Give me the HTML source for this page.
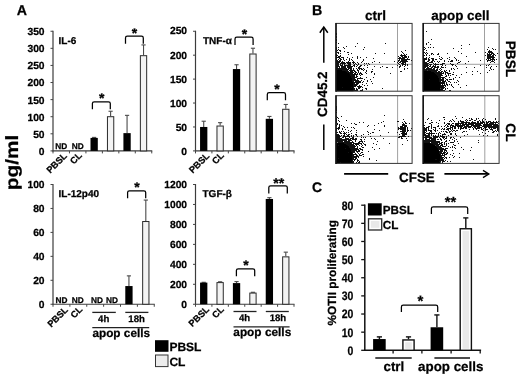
<!DOCTYPE html>
<html><head><meta charset="utf-8"><title>Figure</title>
<style>html,body{margin:0;padding:0;background:#fff}svg{display:block}text{stroke:#000;stroke-width:.25px}</style></head>
<body><svg width="520" height="377" viewBox="0 0 520 377">
<rect width="520" height="377" fill="#fff"/>
<g font-family='"Liberation Sans", Arial, Helvetica, sans-serif' font-weight="bold" fill="#000" text-rendering="geometricPrecision">
<text x="16.7" y="14.8" font-size="14.2" text-anchor="start">A</text>
<text x="311.9" y="14.7" font-size="14.2" text-anchor="start">B</text>
<text x="312.1" y="191.8" font-size="13.9" text-anchor="start">C</text>
<text x="17.6" y="190.2" font-size="17.8" text-anchor="start" transform="rotate(-90 17.6 190.2)" textLength="55.5" lengthAdjust="spacingAndGlyphs">pg/ml</text>
<line x1="53" y1="30.75" x2="53" y2="151.4" stroke="#3c3c3c" stroke-width="1.2"/>
<line x1="52.5" y1="150.9" x2="152.25" y2="150.9" stroke="#3c3c3c" stroke-width="1.2"/>
<line x1="50.5" y1="150.9" x2="53" y2="150.9" stroke="#444" stroke-width="1"/>
<text x="44.6" y="155.2" font-size="10.3" text-anchor="end">0</text>
<line x1="50.5" y1="133.80714285714288" x2="53" y2="133.80714285714288" stroke="#444" stroke-width="1"/>
<text x="44.6" y="137.99" font-size="10.3" text-anchor="end">50</text>
<line x1="50.5" y1="116.71428571428572" x2="53" y2="116.71428571428572" stroke="#444" stroke-width="1"/>
<text x="44.6" y="120.79" font-size="10.3" text-anchor="end">100</text>
<line x1="50.5" y1="99.62142857142857" x2="53" y2="99.62142857142857" stroke="#444" stroke-width="1"/>
<text x="44.6" y="103.58" font-size="10.3" text-anchor="end">150</text>
<line x1="50.5" y1="82.52857142857144" x2="53" y2="82.52857142857144" stroke="#444" stroke-width="1"/>
<text x="44.6" y="86.37" font-size="10.3" text-anchor="end">200</text>
<line x1="50.5" y1="65.4357142857143" x2="53" y2="65.4357142857143" stroke="#444" stroke-width="1"/>
<text x="44.6" y="69.16" font-size="10.3" text-anchor="end">250</text>
<line x1="50.5" y1="48.34285714285714" x2="53" y2="48.34285714285714" stroke="#444" stroke-width="1"/>
<text x="44.6" y="51.96" font-size="10.3" text-anchor="end">300</text>
<line x1="50.5" y1="31.25" x2="53" y2="31.25" stroke="#444" stroke-width="1"/>
<text x="44.6" y="34.75" font-size="10.3" text-anchor="end">350</text>
<line x1="53.0" y1="150.9" x2="53.0" y2="153.4" stroke="#444" stroke-width="1"/>
<line x1="69.45833333333333" y1="150.9" x2="69.45833333333333" y2="153.4" stroke="#444" stroke-width="1"/>
<line x1="85.91666666666666" y1="150.9" x2="85.91666666666666" y2="153.4" stroke="#444" stroke-width="1"/>
<line x1="102.375" y1="150.9" x2="102.375" y2="153.4" stroke="#444" stroke-width="1"/>
<line x1="118.83333333333333" y1="150.9" x2="118.83333333333333" y2="153.4" stroke="#444" stroke-width="1"/>
<line x1="135.29166666666666" y1="150.9" x2="135.29166666666666" y2="153.4" stroke="#444" stroke-width="1"/>
<line x1="151.75" y1="150.9" x2="151.75" y2="153.4" stroke="#444" stroke-width="1"/>
<text x="58.5" y="43.699999999999996" font-size="10" text-anchor="start">IL-6</text>
<line x1="94.14583333333333" y1="137.90942857142858" x2="94.14583333333333" y2="137.39664285714287" stroke="#4a4a4a" stroke-width="1.1"/>
<line x1="92.04583333333333" y1="137.39664285714287" x2="96.24583333333332" y2="137.39664285714287" stroke="#4a4a4a" stroke-width="1.1"/>
<rect x="90.50" y="137.91" width="7.3" height="12.99" fill="#000"/>
<line x1="110.60416666666666" y1="116.20150000000001" x2="110.60416666666666" y2="111.24457142857143" stroke="#4a4a4a" stroke-width="1.1"/>
<line x1="108.50416666666666" y1="111.24457142857143" x2="112.70416666666665" y2="111.24457142857143" stroke="#4a4a4a" stroke-width="1.1"/>
<rect x="107.45" y="116.70" width="6.3" height="34.20" fill="#f3f3f3" stroke="#2a2a2a" stroke-width="1"/>
<line x1="127.0625" y1="133.12342857142858" x2="127.0625" y2="115.34685714285715" stroke="#4a4a4a" stroke-width="1.1"/>
<line x1="124.9625" y1="115.34685714285715" x2="129.1625" y2="115.34685714285715" stroke="#4a4a4a" stroke-width="1.1"/>
<rect x="123.41" y="133.12" width="7.3" height="17.78" fill="#000"/>
<line x1="143.52083333333331" y1="55.18000000000001" x2="143.52083333333331" y2="44.924285714285716" stroke="#4a4a4a" stroke-width="1.1"/>
<line x1="141.42083333333332" y1="44.924285714285716" x2="145.6208333333333" y2="44.924285714285716" stroke="#4a4a4a" stroke-width="1.1"/>
<rect x="140.37" y="55.68" width="6.3" height="95.22" fill="#f3f3f3" stroke="#2a2a2a" stroke-width="1"/>
<text x="61.23" y="149.20000000000002" font-size="8.3" text-anchor="middle">ND</text>
<text x="77.69" y="149.20000000000002" font-size="8.3" text-anchor="middle">ND</text>
<path d="M92.4 109.2V103.6Q92.4 101.8 94.2 101.8H108.5Q110.3 101.8 110.3 103.6V109.2" fill="none" stroke="#000" stroke-width="1.25"/>
<text x="101.8" y="102.95" font-size="14" text-anchor="middle">*</text>
<path d="M125.5 43.8V37.9Q125.5 36.1 127.3 36.1H141.5Q143.3 36.1 143.3 37.9V43.8" fill="none" stroke="#000" stroke-width="1.25"/>
<text x="134.6" y="37.55" font-size="14" text-anchor="middle">*</text>
<text x="67.5" y="156.5" font-size="9.2" text-anchor="end" transform="rotate(-45 67.5 156.5)">PBSL</text>
<text x="82.5" y="156" font-size="9.2" text-anchor="end" transform="rotate(-45 82.5 156)">CL</text>
<line x1="195.5" y1="30.75" x2="195.5" y2="151.4" stroke="#3c3c3c" stroke-width="1.2"/>
<line x1="195.0" y1="150.9" x2="294.5" y2="150.9" stroke="#3c3c3c" stroke-width="1.2"/>
<line x1="193.0" y1="150.9" x2="195.5" y2="150.9" stroke="#444" stroke-width="1"/>
<text x="187.1" y="155.2" font-size="10.3" text-anchor="end">0</text>
<line x1="193.0" y1="126.97" x2="195.5" y2="126.97" stroke="#444" stroke-width="1"/>
<text x="187.1" y="131.03" font-size="10.3" text-anchor="end">50</text>
<line x1="193.0" y1="103.04" x2="195.5" y2="103.04" stroke="#444" stroke-width="1"/>
<text x="187.1" y="106.86" font-size="10.3" text-anchor="end">100</text>
<line x1="193.0" y1="79.11" x2="195.5" y2="79.11" stroke="#444" stroke-width="1"/>
<text x="187.1" y="82.69" font-size="10.3" text-anchor="end">150</text>
<line x1="193.0" y1="55.18000000000001" x2="195.5" y2="55.18000000000001" stroke="#444" stroke-width="1"/>
<text x="187.1" y="58.52" font-size="10.3" text-anchor="end">200</text>
<line x1="193.0" y1="31.25" x2="195.5" y2="31.25" stroke="#444" stroke-width="1"/>
<text x="187.1" y="34.35" font-size="10.3" text-anchor="end">250</text>
<line x1="195.5" y1="150.9" x2="195.5" y2="153.4" stroke="#444" stroke-width="1"/>
<line x1="211.91666666666666" y1="150.9" x2="211.91666666666666" y2="153.4" stroke="#444" stroke-width="1"/>
<line x1="228.33333333333334" y1="150.9" x2="228.33333333333334" y2="153.4" stroke="#444" stroke-width="1"/>
<line x1="244.75" y1="150.9" x2="244.75" y2="153.4" stroke="#444" stroke-width="1"/>
<line x1="261.1666666666667" y1="150.9" x2="261.1666666666667" y2="153.4" stroke="#444" stroke-width="1"/>
<line x1="277.58333333333337" y1="150.9" x2="277.58333333333337" y2="153.4" stroke="#444" stroke-width="1"/>
<line x1="294.0" y1="150.9" x2="294.0" y2="153.4" stroke="#444" stroke-width="1"/>
<text x="203" y="43.699999999999996" font-size="10" text-anchor="start">TNF-α</text>
<line x1="203.70833333333334" y1="126.97" x2="203.70833333333334" y2="121.2268" stroke="#4a4a4a" stroke-width="1.1"/>
<line x1="201.60833333333335" y1="121.2268" x2="205.80833333333334" y2="121.2268" stroke="#4a4a4a" stroke-width="1.1"/>
<rect x="200.06" y="126.97" width="7.3" height="23.93" fill="#000"/>
<line x1="220.125" y1="125.5342" x2="220.125" y2="122.6626" stroke="#4a4a4a" stroke-width="1.1"/>
<line x1="218.025" y1="122.6626" x2="222.225" y2="122.6626" stroke="#4a4a4a" stroke-width="1.1"/>
<rect x="216.97" y="126.03" width="6.3" height="24.87" fill="#f3f3f3" stroke="#2a2a2a" stroke-width="1"/>
<line x1="236.54166666666669" y1="69.0594" x2="236.54166666666669" y2="64.75200000000001" stroke="#4a4a4a" stroke-width="1.1"/>
<line x1="234.4416666666667" y1="64.75200000000001" x2="238.64166666666668" y2="64.75200000000001" stroke="#4a4a4a" stroke-width="1.1"/>
<rect x="232.89" y="69.06" width="7.3" height="81.84" fill="#000"/>
<line x1="252.95833333333334" y1="53.504900000000006" x2="252.95833333333334" y2="48.24029999999999" stroke="#4a4a4a" stroke-width="1.1"/>
<line x1="250.85833333333335" y1="48.24029999999999" x2="255.05833333333334" y2="48.24029999999999" stroke="#4a4a4a" stroke-width="1.1"/>
<rect x="249.81" y="54.00" width="6.3" height="96.90" fill="#f3f3f3" stroke="#2a2a2a" stroke-width="1"/>
<line x1="269.375" y1="118.8338" x2="269.375" y2="116.4408" stroke="#4a4a4a" stroke-width="1.1"/>
<line x1="267.275" y1="116.4408" x2="271.475" y2="116.4408" stroke="#4a4a4a" stroke-width="1.1"/>
<rect x="265.73" y="118.83" width="7.3" height="32.07" fill="#000"/>
<line x1="285.7916666666667" y1="108.7832" x2="285.7916666666667" y2="104.47579999999999" stroke="#4a4a4a" stroke-width="1.1"/>
<line x1="283.69166666666666" y1="104.47579999999999" x2="287.8916666666667" y2="104.47579999999999" stroke="#4a4a4a" stroke-width="1.1"/>
<rect x="282.64" y="109.28" width="6.3" height="41.62" fill="#f3f3f3" stroke="#2a2a2a" stroke-width="1"/>
<path d="M235 45V39.0Q235 37.2 236.8 37.2H251.29999999999998Q253.1 37.2 253.1 39.0V45" fill="none" stroke="#000" stroke-width="1.25"/>
<text x="244.4" y="39.0" font-size="14" text-anchor="middle">*</text>
<path d="M267.3 100.2V94.39999999999999Q267.3 92.6 269.1 92.6H283.7Q285.5 92.6 285.5 94.39999999999999V100.2" fill="none" stroke="#000" stroke-width="1.25"/>
<text x="276.9" y="94.05" font-size="14" text-anchor="middle">*</text>
<text x="210" y="156.5" font-size="9.2" text-anchor="end" transform="rotate(-45 210 156.5)">PBSL</text>
<text x="224.5" y="156" font-size="9.2" text-anchor="end" transform="rotate(-45 224.5 156)">CL</text>
<line x1="53" y1="184.0" x2="53" y2="304.75" stroke="#3c3c3c" stroke-width="1.2"/>
<line x1="52.5" y1="304.25" x2="154.75" y2="304.25" stroke="#3c3c3c" stroke-width="1.2"/>
<line x1="50.5" y1="304.25" x2="53" y2="304.25" stroke="#444" stroke-width="1"/>
<text x="44.6" y="308.2" font-size="10.3" text-anchor="end">0</text>
<line x1="50.5" y1="280.3" x2="53" y2="280.3" stroke="#444" stroke-width="1"/>
<text x="44.6" y="284.18" font-size="10.3" text-anchor="end">20</text>
<line x1="50.5" y1="256.35" x2="53" y2="256.35" stroke="#444" stroke-width="1"/>
<text x="44.6" y="260.16" font-size="10.3" text-anchor="end">40</text>
<line x1="50.5" y1="232.4" x2="53" y2="232.4" stroke="#444" stroke-width="1"/>
<text x="44.6" y="236.14" font-size="10.3" text-anchor="end">60</text>
<line x1="50.5" y1="208.45" x2="53" y2="208.45" stroke="#444" stroke-width="1"/>
<text x="44.6" y="212.12" font-size="10.3" text-anchor="end">80</text>
<line x1="50.5" y1="184.5" x2="53" y2="184.5" stroke="#444" stroke-width="1"/>
<text x="44.6" y="188.1" font-size="10.3" text-anchor="end">100</text>
<line x1="53.0" y1="304.25" x2="53.0" y2="306.75" stroke="#444" stroke-width="1"/>
<line x1="69.875" y1="304.25" x2="69.875" y2="306.75" stroke="#444" stroke-width="1"/>
<line x1="86.75" y1="304.25" x2="86.75" y2="306.75" stroke="#444" stroke-width="1"/>
<line x1="103.625" y1="304.25" x2="103.625" y2="306.75" stroke="#444" stroke-width="1"/>
<line x1="120.5" y1="304.25" x2="120.5" y2="306.75" stroke="#444" stroke-width="1"/>
<line x1="137.375" y1="304.25" x2="137.375" y2="306.75" stroke="#444" stroke-width="1"/>
<line x1="154.25" y1="304.25" x2="154.25" y2="306.75" stroke="#444" stroke-width="1"/>
<text x="58.5" y="197.4" font-size="10" text-anchor="start">IL-12p40</text>
<line x1="128.9375" y1="286.048" x2="128.9375" y2="275.86925" stroke="#4a4a4a" stroke-width="1.1"/>
<line x1="126.8375" y1="275.86925" x2="131.0375" y2="275.86925" stroke="#4a4a4a" stroke-width="1.1"/>
<rect x="125.29" y="286.05" width="7.3" height="18.20" fill="#000"/>
<line x1="145.8125" y1="221.02375" x2="145.8125" y2="200.0675" stroke="#4a4a4a" stroke-width="1.1"/>
<line x1="143.7125" y1="200.0675" x2="147.9125" y2="200.0675" stroke="#4a4a4a" stroke-width="1.1"/>
<rect x="142.66" y="221.52" width="6.3" height="82.73" fill="#f3f3f3" stroke="#2a2a2a" stroke-width="1"/>
<text x="61.6" y="302.55" font-size="8.3" text-anchor="middle">ND</text>
<text x="77.8" y="302.55" font-size="8.3" text-anchor="middle">ND</text>
<text x="96.9" y="302.55" font-size="8.3" text-anchor="middle">ND</text>
<text x="111.9" y="302.55" font-size="8.3" text-anchor="middle">ND</text>
<path d="M127.6 198.2V192.60000000000002Q127.6 190.8 129.4 190.8H143.89999999999998Q145.7 190.8 145.7 192.60000000000002V198.2" fill="none" stroke="#000" stroke-width="1.25"/>
<text x="137.0" y="192.2" font-size="14" text-anchor="middle">*</text>
<text x="68.5" y="310.5" font-size="9.2" text-anchor="end" transform="rotate(-45 68.5 310.5)">PBSL</text>
<text x="83" y="310" font-size="9.2" text-anchor="end" transform="rotate(-45 83 310)">CL</text>
<line x1="92.3" y1="312.4" x2="115.8" y2="312.4" stroke="#222" stroke-width="1.3"/>
<line x1="125.3" y1="312.4" x2="148.4" y2="312.4" stroke="#222" stroke-width="1.3"/>
<line x1="92.3" y1="327.7" x2="149.20000000000002" y2="327.7" stroke="#222" stroke-width="1.3"/>
<text x="103.7" y="322" font-size="9.6" text-anchor="middle">4h</text>
<text x="136.6" y="322" font-size="9.6" text-anchor="middle">18h</text>
<text x="92.4" y="336.8" font-size="11.8" text-anchor="start">apop cells</text>
<line x1="195.5" y1="184.0" x2="195.5" y2="304.75" stroke="#3c3c3c" stroke-width="1.2"/>
<line x1="195.0" y1="304.25" x2="294.5" y2="304.25" stroke="#3c3c3c" stroke-width="1.2"/>
<line x1="193.0" y1="304.25" x2="195.5" y2="304.25" stroke="#444" stroke-width="1"/>
<text x="187.1" y="308.2" font-size="10.3" text-anchor="end">0</text>
<line x1="193.0" y1="284.2916666666667" x2="195.5" y2="284.2916666666667" stroke="#444" stroke-width="1"/>
<text x="187.1" y="288.18" font-size="10.3" text-anchor="end">200</text>
<line x1="193.0" y1="264.3333333333333" x2="195.5" y2="264.3333333333333" stroke="#444" stroke-width="1"/>
<text x="187.1" y="268.17" font-size="10.3" text-anchor="end">400</text>
<line x1="193.0" y1="244.375" x2="195.5" y2="244.375" stroke="#444" stroke-width="1"/>
<text x="187.1" y="248.15" font-size="10.3" text-anchor="end">600</text>
<line x1="193.0" y1="224.41666666666669" x2="195.5" y2="224.41666666666669" stroke="#444" stroke-width="1"/>
<text x="187.1" y="228.13" font-size="10.3" text-anchor="end">800</text>
<line x1="193.0" y1="204.45833333333331" x2="195.5" y2="204.45833333333331" stroke="#444" stroke-width="1"/>
<text x="187.1" y="208.12" font-size="10.3" text-anchor="end">1000</text>
<line x1="193.0" y1="184.5" x2="195.5" y2="184.5" stroke="#444" stroke-width="1"/>
<text x="187.1" y="188.1" font-size="10.3" text-anchor="end">1200</text>
<line x1="195.5" y1="304.25" x2="195.5" y2="306.75" stroke="#444" stroke-width="1"/>
<line x1="211.91666666666666" y1="304.25" x2="211.91666666666666" y2="306.75" stroke="#444" stroke-width="1"/>
<line x1="228.33333333333334" y1="304.25" x2="228.33333333333334" y2="306.75" stroke="#444" stroke-width="1"/>
<line x1="244.75" y1="304.25" x2="244.75" y2="306.75" stroke="#444" stroke-width="1"/>
<line x1="261.1666666666667" y1="304.25" x2="261.1666666666667" y2="306.75" stroke="#444" stroke-width="1"/>
<line x1="277.58333333333337" y1="304.25" x2="277.58333333333337" y2="306.75" stroke="#444" stroke-width="1"/>
<line x1="294.0" y1="304.25" x2="294.0" y2="306.75" stroke="#444" stroke-width="1"/>
<text x="202.5" y="197.4" font-size="10" text-anchor="start">TGF-β</text>
<line x1="203.70833333333334" y1="282.59520833333335" x2="203.70833333333334" y2="282.29583333333335" stroke="#4a4a4a" stroke-width="1.1"/>
<line x1="201.60833333333335" y1="282.29583333333335" x2="205.80833333333334" y2="282.29583333333335" stroke="#4a4a4a" stroke-width="1.1"/>
<rect x="200.06" y="282.60" width="7.3" height="21.65" fill="#000"/>
<line x1="220.125" y1="282.09625" x2="220.125" y2="281.796875" stroke="#4a4a4a" stroke-width="1.1"/>
<line x1="218.025" y1="281.796875" x2="222.225" y2="281.796875" stroke="#4a4a4a" stroke-width="1.1"/>
<rect x="216.97" y="282.60" width="6.3" height="21.65" fill="#f3f3f3" stroke="#2a2a2a" stroke-width="1"/>
<line x1="236.54166666666669" y1="283.09416666666664" x2="236.54166666666669" y2="281.59729166666665" stroke="#4a4a4a" stroke-width="1.1"/>
<line x1="234.4416666666667" y1="281.59729166666665" x2="238.64166666666668" y2="281.59729166666665" stroke="#4a4a4a" stroke-width="1.1"/>
<rect x="232.89" y="283.09" width="7.3" height="21.16" fill="#000"/>
<line x1="252.95833333333334" y1="292.574375" x2="252.95833333333334" y2="292.275" stroke="#4a4a4a" stroke-width="1.1"/>
<line x1="250.85833333333335" y1="292.275" x2="255.05833333333334" y2="292.275" stroke="#4a4a4a" stroke-width="1.1"/>
<rect x="249.81" y="293.07" width="6.3" height="11.18" fill="#f3f3f3" stroke="#2a2a2a" stroke-width="1"/>
<line x1="269.375" y1="198.96979166666665" x2="269.375" y2="197.6725" stroke="#4a4a4a" stroke-width="1.1"/>
<line x1="267.275" y1="197.6725" x2="271.475" y2="197.6725" stroke="#4a4a4a" stroke-width="1.1"/>
<rect x="265.73" y="198.97" width="7.3" height="105.28" fill="#000"/>
<line x1="285.7916666666667" y1="256.35" x2="285.7916666666667" y2="252.15875" stroke="#4a4a4a" stroke-width="1.1"/>
<line x1="283.69166666666666" y1="252.15875" x2="287.8916666666667" y2="252.15875" stroke="#4a4a4a" stroke-width="1.1"/>
<rect x="282.64" y="256.85" width="6.3" height="47.40" fill="#f3f3f3" stroke="#2a2a2a" stroke-width="1"/>
<path d="M236.4 276.2V270.6Q236.4 268.8 238.20000000000002 268.8H252.89999999999998Q254.7 268.8 254.7 270.6V276.2" fill="none" stroke="#000" stroke-width="1.25"/>
<text x="246.0" y="270.05" font-size="14" text-anchor="middle">*</text>
<path d="M268.8 193.4V187.60000000000002Q268.8 185.8 270.6 185.8H285.5Q287.3 185.8 287.3 187.60000000000002V193.4" fill="none" stroke="#000" stroke-width="1.25"/>
<text x="278.7" y="187.7" font-size="14.2" text-anchor="middle">**</text>
<text x="209.7" y="310" font-size="9.2" text-anchor="end" transform="rotate(-45 209.7 310)">PBSL</text>
<text x="224.5" y="310" font-size="9.2" text-anchor="end" transform="rotate(-45 224.5 310)">CL</text>
<line x1="233.5" y1="311.5" x2="256.5" y2="311.5" stroke="#222" stroke-width="1.3"/>
<line x1="265.8" y1="311.5" x2="288.8" y2="311.5" stroke="#222" stroke-width="1.3"/>
<line x1="233.5" y1="326.9" x2="289.6" y2="326.9" stroke="#222" stroke-width="1.3"/>
<text x="244.5" y="321.1" font-size="9.6" text-anchor="middle">4h</text>
<text x="277.9" y="321.1" font-size="9.6" text-anchor="middle">18h</text>
<text x="233.3" y="335.8" font-size="11.85" text-anchor="start">apop cells</text>
<rect x="155" y="340.2" width="13.5" height="11.6" fill="#000"/>
<rect x="155.5" y="355" width="12.5" height="11.6" fill="#ececec" stroke="#333" stroke-width="1"/>
<text x="169.4" y="351" font-size="12" text-anchor="start">PBSL</text>
<text x="169.4" y="365.8" font-size="12" text-anchor="start">CL</text>
<text x="375.4" y="20.3" font-size="13.5" text-anchor="middle">ctrl</text>
<text x="460.4" y="19.8" font-size="13.45" text-anchor="middle">apop cell</text>
<text x="505.6" y="40.7" font-size="13.7" text-anchor="start" transform="rotate(90 505.6 40.7)">PBSL</text>
<text x="506.3" y="123.3" font-size="13.7" text-anchor="start" transform="rotate(90 506.3 123.3)">CL</text>
<text x="327.4" y="116.9" font-size="13.4" text-anchor="start" transform="rotate(-90 327.4 116.9)">CD45.2</text>
<line x1="323.8" y1="62.7" x2="323.8" y2="27.5" stroke="#000" stroke-width="1.5"/>
<path d="M319.8 32.8L323.8 27L327.8 32.8" fill="none" stroke="#000" stroke-width="1.5"/>
<line x1="323.8" y1="124.5" x2="323.8" y2="150" stroke="#000" stroke-width="1.5"/>
<text x="416.9" y="182.3" font-size="13.4" text-anchor="middle">CFSE</text>
<line x1="344.1" y1="173.9" x2="388.2" y2="173.9" stroke="#000" stroke-width="1.6"/>
<line x1="444.4" y1="173.9" x2="488.5" y2="173.9" stroke="#000" stroke-width="1.6"/>
<path d="M483 170.3L488.8 174L483 177.7" fill="none" stroke="#000" stroke-width="1.4"/>
<line x1="397.5" y1="23.4" x2="397.5" y2="91.2" stroke="#888" stroke-width="0.8"/>
<line x1="336" y1="64.3" x2="412.1" y2="64.3" stroke="#888" stroke-width="0.8"/>
<path d="M336 91.2V69.7L338.8 69.7L340.5 69.8L341.9 70.0L343.1 70.2L344.2 70.5L345.2 70.8L346.2 71.2L347.0 71.7L347.8 72.2L348.6 72.8L349.3 73.4L349.9 74.1L350.5 74.9L351.0 75.8L351.5 76.7L351.9 77.7L352.3 78.7L352.6 79.9L352.9 81.1L353.1 82.5L353.3 84.0L353.4 85.7L353.5 87.7L353.5 91.2Z" fill="#000"/>
<path d="M336 33.5h1M336 34.5h1M336 36.5h1M336 37.5h1M336 39.5h1M336 40.5h1M336 42.5h1M336 47.5h1M336 48.5h1M336 49.5h1M336 51.5h1M336 54.5h1M336 55.5h1M336 56.5h1M336 57.5h1M336 58.5h1M336 59.5h1M336 60.5h1M336 61.5h1M336 62.5h1M336 63.5h1M336 64.5h1M336 65.5h1M336 66.5h1M336 67.5h1M336 68.5h1M336 69.5h1M337 50.5h1M337 52.5h1M337 55.5h1M337 57.5h1M337 60.5h1M337 61.5h1M337 62.5h1M337 63.5h1M337 64.5h1M337 65.5h1M337 66.5h1M337 67.5h1M337 68.5h1M337 69.5h1M338 43.5h1M338 47.5h1M338 49.5h1M338 52.5h1M338 53.5h1M338 56.5h1M338 57.5h1M338 59.5h1M338 61.5h1M338 62.5h1M338 63.5h1M338 64.5h1M338 65.5h1M338 66.5h1M338 68.5h1M338 69.5h1M339 50.5h1M339 56.5h1M339 57.5h1M339 58.5h1M339 60.5h1M339 61.5h1M339 62.5h1M339 66.5h1M339 67.5h1M339 68.5h1M339 69.5h1M340 50.5h1M340 51.5h1M340 53.5h1M340 55.5h1M340 56.5h1M340 58.5h1M340 59.5h1M340 60.5h1M340 61.5h1M340 63.5h1M340 64.5h1M340 65.5h1M340 68.5h1M340 69.5h1M341 57.5h1M341 59.5h1M341 62.5h1M341 63.5h1M341 65.5h1M341 66.5h1M341 67.5h1M341 68.5h1M341 69.5h1M342 57.5h1M342 61.5h1M342 62.5h1M342 63.5h1M342 64.5h1M342 65.5h1M342 66.5h1M342 67.5h1M342 68.5h1M342 69.5h1M342 70.5h1M342 87.5h1M343 47.5h1M343 57.5h1M343 58.5h1M343 59.5h1M343 62.5h1M343 63.5h1M343 66.5h1M343 67.5h1M343 68.5h1M343 69.5h1M343 70.5h1M344 48.5h1M344 51.5h1M344 60.5h1M344 62.5h1M344 63.5h1M344 64.5h1M344 65.5h1M344 66.5h1M344 67.5h1M344 68.5h1M344 69.5h1M344 70.5h1M345 63.5h1M345 65.5h1M345 66.5h1M345 67.5h1M345 68.5h1M345 69.5h1M345 70.5h1M346 46.5h1M346 59.5h1M346 62.5h1M346 65.5h1M346 68.5h1M346 69.5h1M346 70.5h1M346 71.5h1M347 52.5h1M347 57.5h1M347 62.5h1M347 63.5h1M347 65.5h1M347 66.5h1M347 67.5h1M347 69.5h1M347 70.5h1M347 71.5h1M347 72.5h1M348 52.5h1M348 54.5h1M348 61.5h1M348 62.5h1M348 63.5h1M348 64.5h1M348 65.5h1M348 66.5h1M348 67.5h1M348 68.5h1M348 69.5h1M348 71.5h1M348 72.5h1M349 58.5h1M349 59.5h1M349 60.5h1M349 62.5h1M349 63.5h1M349 64.5h1M349 65.5h1M349 66.5h1M349 67.5h1M349 68.5h1M349 70.5h1M349 72.5h1M349 73.5h1M350 62.5h1M350 63.5h1M350 64.5h1M350 65.5h1M350 66.5h1M350 67.5h1M350 68.5h1M350 69.5h1M350 70.5h1M350 71.5h1M350 72.5h1M350 73.5h1M350 74.5h1M350 75.5h1M351 53.5h1M351 59.5h1M351 66.5h1M351 67.5h1M351 68.5h1M351 69.5h1M351 70.5h1M351 71.5h1M351 72.5h1M351 73.5h1M351 74.5h1M351 75.5h1M351 76.5h1M351 77.5h1M351 87.5h1M352 57.5h1M352 60.5h1M352 62.5h1M352 66.5h1M352 70.5h1M352 71.5h1M352 72.5h1M352 73.5h1M352 74.5h1M352 75.5h1M352 76.5h1M352 77.5h1M352 78.5h1M352 79.5h1M352 80.5h1M352 81.5h1M353 61.5h1M353 62.5h1M353 63.5h1M353 65.5h1M353 68.5h1M353 69.5h1M353 70.5h1M353 72.5h1M353 74.5h1M353 75.5h1M353 76.5h1M353 77.5h1M353 78.5h1M353 79.5h1M353 80.5h1M353 81.5h1M353 82.5h1M353 83.5h1M353 84.5h1M353 85.5h1M353 86.5h1M353 87.5h1M353 88.5h1M353 89.5h1M353 90.5h1M354 62.5h1M354 64.5h1M354 65.5h1M354 66.5h1M354 70.5h1M354 71.5h1M354 73.5h1M354 74.5h1M354 75.5h1M354 76.5h1M354 77.5h1M354 78.5h1M354 79.5h1M354 80.5h1M354 82.5h1M354 83.5h1M354 84.5h1M354 85.5h1M354 86.5h1M354 88.5h1M354 89.5h1M354 90.5h1M355 46.5h1M355 63.5h1M355 71.5h1M355 72.5h1M355 73.5h1M355 74.5h1M355 77.5h1M355 79.5h1M355 80.5h1M355 81.5h1M355 82.5h1M355 84.5h1M355 85.5h1M355 86.5h1M355 90.5h1M356 64.5h1M356 66.5h1M356 68.5h1M356 72.5h1M356 74.5h1M356 75.5h1M356 76.5h1M356 77.5h1M356 80.5h1M356 81.5h1M356 82.5h1M356 83.5h1M356 84.5h1M356 85.5h1M356 88.5h1M356 89.5h1M356 90.5h1M357 43.5h1M357 56.5h1M357 57.5h1M357 58.5h1M357 62.5h1M357 65.5h1M357 69.5h1M357 70.5h1M357 73.5h1M357 74.5h1M357 76.5h1M357 78.5h1M357 79.5h1M357 80.5h1M357 81.5h1M357 82.5h1M357 83.5h1M357 84.5h1M357 86.5h1M357 89.5h1M357 90.5h1M358 63.5h1M358 64.5h1M358 67.5h1M358 68.5h1M358 70.5h1M358 71.5h1M358 72.5h1M358 78.5h1M358 80.5h1M358 81.5h1M358 82.5h1M358 83.5h1M358 86.5h1M358 87.5h1M358 88.5h1M359 66.5h1M359 67.5h1M359 68.5h1M359 69.5h1M359 73.5h1M359 74.5h1M359 78.5h1M359 81.5h1M359 82.5h1M359 85.5h1M359 86.5h1M359 87.5h1M359 88.5h1M360 57.5h1M360 65.5h1M360 66.5h1M360 68.5h1M360 72.5h1M360 73.5h1M360 75.5h1M360 77.5h1M360 78.5h1M360 81.5h1M360 82.5h1M360 86.5h1M360 87.5h1M360 90.5h1M361 62.5h1M361 65.5h1M361 68.5h1M361 69.5h1M361 73.5h1M361 74.5h1M361 78.5h1M361 80.5h1M361 86.5h1M361 90.5h1M362 61.5h1M362 69.5h1M362 74.5h1M362 78.5h1M362 82.5h1M362 84.5h1M362 87.5h1M362 89.5h1M362 90.5h1M363 49.5h1M363 59.5h1M363 60.5h1M363 68.5h1M363 70.5h1M363 81.5h1M364 47.5h1M364 63.5h1M364 65.5h1M364 69.5h1M364 79.5h1M364 85.5h1M365 72.5h1M365 88.5h1M366 57.5h1M366 63.5h1M366 70.5h1M366 71.5h1M366 73.5h1M366 77.5h1M366 83.5h1M366 88.5h1M366 89.5h1M367 65.5h1M367 67.5h1M367 80.5h1M367 81.5h1M367 85.5h1M368 63.5h1M369 64.5h1M370 79.5h1M371 71.5h1M371 72.5h1M371 81.5h1M372 62.5h1M372 69.5h1M372 71.5h1M372 83.5h1M373 58.5h1M373 77.5h1M374 61.5h1M374 66.5h1M374 73.5h1M374 74.5h1M375 53.5h1M379 62.5h1M380 67.5h1M382 66.5h1M382 88.5h1M384 53.5h1M385 43.5h1M386 67.5h1M387 67.5h1M390 73.5h1M392 67.5h1M394 61.5h1M397 62.5h1M397 65.5h1M398 56.5h1M398 58.5h1M398 60.5h1M398 61.5h1M398 63.5h1M399 57.5h1M399 58.5h1M399 59.5h1M399 60.5h1M399 62.5h1M399 64.5h1M399 66.5h1M399 67.5h1M400 55.5h1M400 57.5h1M400 58.5h1M400 61.5h1M400 62.5h1M400 65.5h1M400 66.5h1M400 71.5h1M401 51.5h1M401 54.5h1M401 55.5h1M401 56.5h1M401 58.5h1M401 59.5h1M401 60.5h1M401 61.5h1M401 63.5h1M401 71.5h1M402 52.5h1M402 55.5h1M402 56.5h1M402 57.5h1M402 58.5h1M402 59.5h1M402 60.5h1M402 61.5h1M402 62.5h1M402 63.5h1M402 64.5h1M402 65.5h1M403 53.5h1M403 55.5h1M403 57.5h1M403 58.5h1M403 59.5h1M403 60.5h1M403 61.5h1M403 62.5h1M403 63.5h1M403 64.5h1M404 54.5h1M404 55.5h1M404 56.5h1M404 57.5h1M404 58.5h1M404 59.5h1M404 60.5h1M404 61.5h1M404 62.5h1M404 64.5h1M404 66.5h1M404 68.5h1M404 69.5h1M405 50.5h1M405 55.5h1M405 56.5h1M405 57.5h1M405 59.5h1M405 60.5h1M405 61.5h1M405 62.5h1M405 63.5h1M405 64.5h1M405 65.5h1M406 54.5h1M406 56.5h1M406 57.5h1M406 59.5h1M406 60.5h1M406 61.5h1M407 58.5h1M407 59.5h1M407 61.5h1M407 64.5h1M407 65.5h1M407 68.5h1M408 56.5h1M408 57.5h1M408 59.5h1M409 59.5h1M411 60.5h1" stroke="#111" stroke-width="1" fill="none"/>
<rect x="336" y="23.4" width="76.10000000000002" height="67.80000000000001" fill="none" stroke="#333" stroke-width="1"/>
<line x1="336" y1="22.9" x2="336" y2="91.7" stroke="#111" stroke-width="1.5"/>
<line x1="484.5" y1="23.4" x2="484.5" y2="91.2" stroke="#888" stroke-width="0.8"/>
<line x1="423.2" y1="64.3" x2="499.1" y2="64.3" stroke="#888" stroke-width="0.8"/>
<path d="M423.2 91.2V70.2L426.0 70.2L427.7 70.3L429.1 70.5L430.3 70.7L431.4 70.9L432.4 71.3L433.4 71.7L434.2 72.1L435.0 72.6L435.8 73.2L436.5 73.8L437.1 74.5L437.7 75.3L438.2 76.1L438.7 77.0L439.1 78.0L439.5 79.0L439.8 80.1L440.1 81.3L440.3 82.7L440.5 84.1L440.6 85.8L440.7 87.8L440.7 91.2Z" fill="#000"/>
<path d="M423 33.5h1M423 35.5h1M423 36.5h1M423 38.5h1M423 39.5h1M423 42.5h1M423 43.5h1M423 44.5h1M423 46.5h1M423 50.5h1M423 52.5h1M423 53.5h1M423 56.5h1M423 57.5h1M423 59.5h1M423 60.5h1M423 61.5h1M423 62.5h1M423 63.5h1M423 64.5h1M423 65.5h1M423 66.5h1M423 67.5h1M423 68.5h1M423 69.5h1M423 70.5h1M424 47.5h1M424 49.5h1M424 52.5h1M424 55.5h1M424 58.5h1M424 59.5h1M424 60.5h1M424 61.5h1M424 62.5h1M424 63.5h1M424 64.5h1M424 65.5h1M424 66.5h1M424 67.5h1M424 68.5h1M424 69.5h1M424 70.5h1M425 48.5h1M425 53.5h1M425 58.5h1M425 59.5h1M425 62.5h1M425 63.5h1M425 64.5h1M425 65.5h1M425 66.5h1M425 67.5h1M425 69.5h1M425 70.5h1M426 31.5h1M426 43.5h1M426 44.5h1M426 50.5h1M426 52.5h1M426 54.5h1M426 55.5h1M426 57.5h1M426 58.5h1M426 59.5h1M426 62.5h1M426 63.5h1M426 64.5h1M426 65.5h1M426 66.5h1M426 68.5h1M426 69.5h1M426 70.5h1M427 53.5h1M427 61.5h1M427 63.5h1M427 64.5h1M427 65.5h1M427 66.5h1M427 67.5h1M427 68.5h1M427 69.5h1M428 42.5h1M428 47.5h1M428 58.5h1M428 59.5h1M428 60.5h1M428 61.5h1M428 63.5h1M428 65.5h1M428 67.5h1M428 68.5h1M428 69.5h1M428 70.5h1M429 55.5h1M429 57.5h1M429 59.5h1M429 60.5h1M429 62.5h1M429 64.5h1M429 66.5h1M429 68.5h1M429 69.5h1M429 70.5h1M429 79.5h1M430 44.5h1M430 47.5h1M430 62.5h1M430 64.5h1M430 65.5h1M430 66.5h1M430 68.5h1M430 69.5h1M430 70.5h1M431 39.5h1M431 53.5h1M431 54.5h1M431 58.5h1M431 61.5h1M431 62.5h1M431 64.5h1M431 67.5h1M431 68.5h1M431 69.5h1M431 70.5h1M431 71.5h1M432 53.5h1M432 58.5h1M432 59.5h1M432 60.5h1M432 61.5h1M432 62.5h1M432 66.5h1M432 67.5h1M432 69.5h1M432 70.5h1M432 71.5h1M433 47.5h1M433 54.5h1M433 58.5h1M433 59.5h1M433 60.5h1M433 63.5h1M433 65.5h1M433 66.5h1M433 68.5h1M433 69.5h1M433 70.5h1M433 71.5h1M434 61.5h1M434 64.5h1M434 66.5h1M434 67.5h1M434 68.5h1M434 69.5h1M434 70.5h1M434 71.5h1M434 72.5h1M435 59.5h1M435 63.5h1M435 64.5h1M435 65.5h1M435 66.5h1M435 67.5h1M435 70.5h1M435 71.5h1M435 72.5h1M435 73.5h1M436 59.5h1M436 64.5h1M436 67.5h1M436 69.5h1M436 70.5h1M436 71.5h1M436 72.5h1M436 73.5h1M436 74.5h1M437 54.5h1M437 61.5h1M437 64.5h1M437 66.5h1M437 67.5h1M437 68.5h1M437 69.5h1M437 70.5h1M437 72.5h1M437 73.5h1M437 74.5h1M437 75.5h1M438 53.5h1M438 54.5h1M438 62.5h1M438 64.5h1M438 66.5h1M438 67.5h1M438 71.5h1M438 72.5h1M438 73.5h1M438 74.5h1M438 75.5h1M438 76.5h1M438 77.5h1M439 56.5h1M439 58.5h1M439 61.5h1M439 69.5h1M439 71.5h1M439 72.5h1M439 73.5h1M439 74.5h1M439 75.5h1M439 76.5h1M439 77.5h1M439 78.5h1M439 79.5h1M439 80.5h1M439 81.5h1M440 59.5h1M440 64.5h1M440 68.5h1M440 70.5h1M440 72.5h1M440 73.5h1M440 74.5h1M440 75.5h1M440 76.5h1M440 77.5h1M440 78.5h1M440 79.5h1M440 80.5h1M440 81.5h1M440 82.5h1M440 83.5h1M440 84.5h1M440 85.5h1M440 86.5h1M440 87.5h1M440 89.5h1M440 90.5h1M441 57.5h1M441 59.5h1M441 64.5h1M441 66.5h1M441 67.5h1M441 69.5h1M441 71.5h1M441 72.5h1M441 73.5h1M441 74.5h1M441 75.5h1M441 77.5h1M441 79.5h1M441 80.5h1M441 82.5h1M441 83.5h1M441 85.5h1M441 86.5h1M441 87.5h1M441 88.5h1M441 89.5h1M441 90.5h1M442 58.5h1M442 63.5h1M442 64.5h1M442 65.5h1M442 67.5h1M442 71.5h1M442 73.5h1M442 75.5h1M442 77.5h1M442 78.5h1M442 79.5h1M442 80.5h1M442 81.5h1M442 82.5h1M442 83.5h1M442 84.5h1M442 85.5h1M442 86.5h1M442 87.5h1M442 88.5h1M442 89.5h1M442 90.5h1M443 63.5h1M443 67.5h1M443 72.5h1M443 73.5h1M443 77.5h1M443 78.5h1M443 79.5h1M443 80.5h1M443 81.5h1M443 82.5h1M443 83.5h1M443 85.5h1M443 86.5h1M443 87.5h1M443 88.5h1M443 90.5h1M444 60.5h1M444 61.5h1M444 63.5h1M444 70.5h1M444 71.5h1M444 77.5h1M444 81.5h1M444 82.5h1M444 83.5h1M444 84.5h1M444 85.5h1M444 87.5h1M444 90.5h1M445 65.5h1M445 67.5h1M445 71.5h1M445 72.5h1M445 73.5h1M445 74.5h1M445 76.5h1M445 78.5h1M445 80.5h1M445 81.5h1M445 85.5h1M445 86.5h1M445 88.5h1M445 89.5h1M446 70.5h1M446 72.5h1M446 75.5h1M446 76.5h1M446 79.5h1M446 82.5h1M446 83.5h1M446 84.5h1M447 53.5h1M447 58.5h1M447 72.5h1M447 73.5h1M447 79.5h1M447 80.5h1M447 84.5h1M447 85.5h1M447 88.5h1M448 61.5h1M448 73.5h1M448 74.5h1M448 75.5h1M448 81.5h1M449 57.5h1M449 59.5h1M449 70.5h1M449 71.5h1M449 73.5h1M449 77.5h1M449 79.5h1M449 81.5h1M449 84.5h1M449 90.5h1M450 61.5h1M450 63.5h1M450 73.5h1M450 75.5h1M450 79.5h1M450 82.5h1M450 90.5h1M451 60.5h1M451 61.5h1M451 64.5h1M451 68.5h1M451 69.5h1M451 79.5h1M451 84.5h1M451 85.5h1M452 60.5h1M452 61.5h1M452 64.5h1M452 65.5h1M452 74.5h1M452 86.5h1M453 48.5h1M453 64.5h1M453 68.5h1M453 72.5h1M453 74.5h1M453 78.5h1M453 79.5h1M453 87.5h1M454 57.5h1M454 69.5h1M454 82.5h1M455 58.5h1M455 65.5h1M455 77.5h1M456 59.5h1M456 60.5h1M456 66.5h1M456 75.5h1M456 82.5h1M457 63.5h1M457 68.5h1M457 80.5h1M458 51.5h1M458 60.5h1M458 62.5h1M458 81.5h1M458 84.5h1M459 62.5h1M459 77.5h1M460 61.5h1M460 87.5h1M461 45.5h1M461 48.5h1M461 53.5h1M461 74.5h1M465 63.5h1M466 56.5h1M466 67.5h1M466 72.5h1M466 85.5h1M468 61.5h1M469 44.5h1M472 71.5h1M472 74.5h1M474 67.5h1M475 52.5h1M477 71.5h1M480 60.5h1M480 65.5h1M480 73.5h1M485 52.5h1M485 55.5h1M486 59.5h1M486 65.5h1M486 67.5h1M487 49.5h1M487 53.5h1M487 54.5h1M487 55.5h1M487 56.5h1M487 57.5h1M487 58.5h1M487 60.5h1M487 61.5h1M487 72.5h1M488 47.5h1M488 51.5h1M488 52.5h1M488 54.5h1M488 55.5h1M488 56.5h1M488 57.5h1M488 58.5h1M488 59.5h1M488 60.5h1M488 65.5h1M489 50.5h1M489 51.5h1M489 52.5h1M489 53.5h1M489 54.5h1M489 55.5h1M489 56.5h1M489 57.5h1M489 58.5h1M489 60.5h1M489 64.5h1M489 70.5h1M490 51.5h1M490 52.5h1M490 54.5h1M490 55.5h1M490 56.5h1M490 57.5h1M490 58.5h1M490 59.5h1M490 60.5h1M490 62.5h1M490 67.5h1M490 68.5h1M491 51.5h1M491 52.5h1M491 53.5h1M491 54.5h1M491 56.5h1M491 57.5h1M491 59.5h1M491 61.5h1M491 66.5h1M491 69.5h1M492 48.5h1M492 52.5h1M492 53.5h1M492 55.5h1M492 56.5h1M492 57.5h1M492 58.5h1M492 59.5h1M492 60.5h1M492 61.5h1M493 49.5h1M493 53.5h1M493 54.5h1M493 55.5h1M493 56.5h1M493 57.5h1M493 58.5h1M493 59.5h1M493 61.5h1M493 69.5h1M494 54.5h1M494 57.5h1M494 59.5h1M494 60.5h1M494 62.5h1M495 49.5h1M495 55.5h1M496 59.5h1M496 66.5h1M497 53.5h1" stroke="#111" stroke-width="1" fill="none"/>
<rect x="423.2" y="23.4" width="75.90000000000003" height="67.80000000000001" fill="none" stroke="#333" stroke-width="1"/>
<line x1="423.2" y1="22.9" x2="423.2" y2="91.7" stroke="#111" stroke-width="1.5"/>
<line x1="397.6" y1="95.7" x2="397.6" y2="163.4" stroke="#888" stroke-width="0.8"/>
<line x1="336" y1="136.4" x2="412.1" y2="136.4" stroke="#888" stroke-width="0.8"/>
<path d="M336 163.4V142.4L338.8 142.4L340.4 142.5L341.7 142.7L342.9 142.9L344.0 143.1L345.0 143.5L345.9 143.9L346.7 144.3L347.5 144.8L348.2 145.4L348.9 146.0L349.5 146.7L350.1 147.5L350.6 148.3L351.0 149.2L351.4 150.2L351.8 151.2L352.1 152.3L352.4 153.5L352.6 154.9L352.8 156.3L352.9 158.0L353.0 160.0L353.0 163.4Z" fill="#000"/>
<path d="M336 106.5h1M336 107.5h1M336 108.5h1M336 109.5h1M336 110.5h1M336 112.5h1M336 116.5h1M336 118.5h1M336 119.5h1M336 120.5h1M336 121.5h1M336 122.5h1M336 125.5h1M336 128.5h1M336 129.5h1M336 130.5h1M336 132.5h1M336 134.5h1M336 135.5h1M336 136.5h1M336 137.5h1M336 138.5h1M336 139.5h1M336 140.5h1M336 141.5h1M336 142.5h1M336 149.5h1M337 117.5h1M337 123.5h1M337 124.5h1M337 128.5h1M337 132.5h1M337 134.5h1M337 135.5h1M337 136.5h1M337 137.5h1M337 138.5h1M337 139.5h1M337 140.5h1M337 141.5h1M338 118.5h1M338 120.5h1M338 127.5h1M338 128.5h1M338 129.5h1M338 134.5h1M338 135.5h1M338 136.5h1M338 137.5h1M338 138.5h1M338 139.5h1M338 140.5h1M338 141.5h1M338 142.5h1M338 145.5h1M338 158.5h1M339 121.5h1M339 124.5h1M339 125.5h1M339 126.5h1M339 127.5h1M339 128.5h1M339 131.5h1M339 132.5h1M339 135.5h1M339 136.5h1M339 137.5h1M339 138.5h1M339 139.5h1M339 140.5h1M339 141.5h1M339 142.5h1M340 132.5h1M340 133.5h1M340 136.5h1M340 138.5h1M340 139.5h1M340 140.5h1M340 141.5h1M340 142.5h1M340 162.5h1M341 116.5h1M341 125.5h1M341 131.5h1M341 133.5h1M341 135.5h1M341 138.5h1M341 139.5h1M341 140.5h1M341 141.5h1M341 142.5h1M342 128.5h1M342 129.5h1M342 137.5h1M342 139.5h1M342 140.5h1M342 141.5h1M342 142.5h1M343 126.5h1M343 131.5h1M343 133.5h1M343 135.5h1M343 136.5h1M343 137.5h1M343 139.5h1M343 140.5h1M343 142.5h1M344 127.5h1M344 132.5h1M344 133.5h1M344 134.5h1M344 135.5h1M344 136.5h1M344 139.5h1M344 140.5h1M344 141.5h1M344 142.5h1M344 143.5h1M345 129.5h1M345 133.5h1M345 136.5h1M345 137.5h1M345 138.5h1M345 139.5h1M345 140.5h1M345 141.5h1M345 142.5h1M345 143.5h1M345 148.5h1M346 120.5h1M346 132.5h1M346 134.5h1M346 136.5h1M346 138.5h1M346 139.5h1M346 140.5h1M346 141.5h1M346 142.5h1M346 143.5h1M346 144.5h1M347 127.5h1M347 135.5h1M347 136.5h1M347 138.5h1M347 139.5h1M347 141.5h1M347 142.5h1M347 143.5h1M347 144.5h1M348 130.5h1M348 132.5h1M348 134.5h1M348 135.5h1M348 136.5h1M348 138.5h1M348 139.5h1M348 140.5h1M348 141.5h1M348 142.5h1M348 143.5h1M348 144.5h1M348 145.5h1M348 152.5h1M349 134.5h1M349 136.5h1M349 137.5h1M349 139.5h1M349 140.5h1M349 141.5h1M349 142.5h1M349 143.5h1M349 144.5h1M349 145.5h1M349 146.5h1M350 131.5h1M350 138.5h1M350 139.5h1M350 140.5h1M350 142.5h1M350 143.5h1M350 144.5h1M350 145.5h1M350 146.5h1M350 147.5h1M350 148.5h1M351 123.5h1M351 127.5h1M351 130.5h1M351 133.5h1M351 135.5h1M351 136.5h1M351 138.5h1M351 140.5h1M351 142.5h1M351 143.5h1M351 144.5h1M351 145.5h1M351 146.5h1M351 147.5h1M351 148.5h1M351 149.5h1M351 150.5h1M351 151.5h1M352 137.5h1M352 138.5h1M352 139.5h1M352 141.5h1M352 142.5h1M352 144.5h1M352 145.5h1M352 146.5h1M352 147.5h1M352 148.5h1M352 149.5h1M352 150.5h1M352 151.5h1M352 152.5h1M352 153.5h1M352 154.5h1M352 155.5h1M352 156.5h1M352 157.5h1M352 158.5h1M352 159.5h1M352 160.5h1M352 161.5h1M352 162.5h1M353 127.5h1M353 135.5h1M353 136.5h1M353 137.5h1M353 138.5h1M353 139.5h1M353 142.5h1M353 143.5h1M353 144.5h1M353 145.5h1M353 146.5h1M353 147.5h1M353 148.5h1M353 149.5h1M353 150.5h1M353 151.5h1M353 152.5h1M353 154.5h1M353 155.5h1M353 156.5h1M353 157.5h1M353 158.5h1M353 159.5h1M353 161.5h1M353 162.5h1M354 123.5h1M354 128.5h1M354 139.5h1M354 143.5h1M354 145.5h1M354 146.5h1M354 147.5h1M354 148.5h1M354 149.5h1M354 150.5h1M354 151.5h1M354 152.5h1M354 154.5h1M354 156.5h1M354 157.5h1M354 159.5h1M354 160.5h1M355 124.5h1M355 134.5h1M355 138.5h1M355 139.5h1M355 140.5h1M355 141.5h1M355 143.5h1M355 144.5h1M355 146.5h1M355 148.5h1M355 149.5h1M355 150.5h1M355 153.5h1M355 154.5h1M355 156.5h1M355 157.5h1M355 158.5h1M355 159.5h1M356 124.5h1M356 130.5h1M356 132.5h1M356 134.5h1M356 135.5h1M356 138.5h1M356 139.5h1M356 143.5h1M356 144.5h1M356 145.5h1M356 148.5h1M356 149.5h1M356 150.5h1M356 151.5h1M356 154.5h1M356 155.5h1M356 156.5h1M356 157.5h1M356 158.5h1M356 162.5h1M357 136.5h1M357 143.5h1M357 144.5h1M357 146.5h1M357 147.5h1M357 148.5h1M357 149.5h1M357 151.5h1M357 152.5h1M357 155.5h1M357 156.5h1M357 159.5h1M357 160.5h1M357 161.5h1M358 142.5h1M358 143.5h1M358 144.5h1M358 149.5h1M358 150.5h1M358 151.5h1M358 153.5h1M358 156.5h1M358 157.5h1M358 160.5h1M358 162.5h1M359 122.5h1M359 141.5h1M359 142.5h1M359 143.5h1M359 145.5h1M359 148.5h1M359 150.5h1M359 151.5h1M359 154.5h1M359 155.5h1M359 161.5h1M359 162.5h1M360 139.5h1M360 141.5h1M360 143.5h1M360 148.5h1M360 149.5h1M360 153.5h1M360 155.5h1M361 135.5h1M361 137.5h1M361 139.5h1M361 140.5h1M361 141.5h1M361 143.5h1M361 144.5h1M361 146.5h1M361 149.5h1M361 152.5h1M361 155.5h1M362 141.5h1M362 142.5h1M362 145.5h1M362 147.5h1M362 149.5h1M362 150.5h1M362 152.5h1M362 154.5h1M363 122.5h1M363 134.5h1M363 137.5h1M363 143.5h1M363 147.5h1M363 154.5h1M363 156.5h1M364 139.5h1M364 141.5h1M364 144.5h1M365 137.5h1M365 144.5h1M365 145.5h1M367 126.5h1M367 131.5h1M368 125.5h1M368 132.5h1M368 134.5h1M368 151.5h1M369 158.5h1M369 159.5h1M370 133.5h1M370 136.5h1M371 138.5h1M372 132.5h1M372 147.5h1M373 132.5h1M373 143.5h1M374 125.5h1M374 129.5h1M374 138.5h1M374 149.5h1M375 139.5h1M376 144.5h1M376 160.5h1M377 141.5h1M378 123.5h1M379 130.5h1M379 148.5h1M380 135.5h1M381 122.5h1M383 121.5h1M383 138.5h1M384 115.5h1M384 125.5h1M384 126.5h1M388 132.5h1M389 143.5h1M397 121.5h1M397 132.5h1M398 121.5h1M398 127.5h1M398 128.5h1M398 129.5h1M398 137.5h1M399 128.5h1M399 134.5h1M399 136.5h1M399 137.5h1M400 126.5h1M400 127.5h1M400 128.5h1M400 129.5h1M400 131.5h1M400 136.5h1M401 126.5h1M401 127.5h1M401 128.5h1M401 129.5h1M401 131.5h1M401 133.5h1M401 136.5h1M401 137.5h1M401 138.5h1M402 122.5h1M402 124.5h1M402 125.5h1M402 126.5h1M402 127.5h1M402 128.5h1M402 129.5h1M402 130.5h1M402 131.5h1M402 132.5h1M402 133.5h1M402 134.5h1M402 135.5h1M402 136.5h1M402 138.5h1M402 144.5h1M403 119.5h1M403 123.5h1M403 124.5h1M403 125.5h1M403 127.5h1M403 128.5h1M403 129.5h1M403 130.5h1M403 131.5h1M403 132.5h1M403 133.5h1M403 134.5h1M403 135.5h1M403 136.5h1M404 121.5h1M404 124.5h1M404 125.5h1M404 126.5h1M404 127.5h1M404 128.5h1M404 129.5h1M404 130.5h1M404 131.5h1M404 132.5h1M404 133.5h1M404 134.5h1M404 135.5h1M404 136.5h1M405 122.5h1M405 123.5h1M405 125.5h1M405 126.5h1M405 127.5h1M405 128.5h1M405 129.5h1M405 130.5h1M405 131.5h1M405 133.5h1M405 134.5h1M405 136.5h1M406 123.5h1M406 125.5h1M406 126.5h1M406 132.5h1M406 133.5h1M406 134.5h1M406 138.5h1M407 127.5h1M407 128.5h1M407 129.5h1M407 130.5h1M407 131.5h1M407 140.5h1M408 130.5h1M408 136.5h1M409 123.5h1M410 130.5h1M411 128.5h1" stroke="#111" stroke-width="1" fill="none"/>
<rect x="336" y="95.7" width="76.10000000000002" height="67.7" fill="none" stroke="#333" stroke-width="1"/>
<line x1="336" y1="95.2" x2="336" y2="163.9" stroke="#111" stroke-width="1.5"/>
<line x1="484.8" y1="95.7" x2="484.8" y2="163.4" stroke="#888" stroke-width="0.8"/>
<line x1="423.2" y1="136.3" x2="499.1" y2="136.3" stroke="#888" stroke-width="0.8"/>
<path d="M423.2 163.4V142.4L426.0 142.4L427.7 142.5L429.1 142.7L430.3 142.9L431.4 143.1L432.4 143.5L433.4 143.9L434.2 144.3L435.0 144.8L435.8 145.4L436.5 146.0L437.1 146.7L437.7 147.5L438.2 148.3L438.7 149.2L439.1 150.2L439.5 151.2L439.8 152.3L440.1 153.5L440.3 154.9L440.5 156.3L440.6 158.0L440.7 160.0L440.7 163.4Z" fill="#000"/>
<path d="M423 105.5h1M423 106.5h1M423 107.5h1M423 111.5h1M423 112.5h1M423 113.5h1M423 114.5h1M423 117.5h1M423 119.5h1M423 121.5h1M423 125.5h1M423 126.5h1M423 127.5h1M423 128.5h1M423 129.5h1M423 130.5h1M423 131.5h1M423 132.5h1M423 133.5h1M423 134.5h1M423 135.5h1M423 136.5h1M423 137.5h1M423 138.5h1M423 139.5h1M423 140.5h1M423 141.5h1M423 142.5h1M423 147.5h1M424 125.5h1M424 127.5h1M424 128.5h1M424 129.5h1M424 130.5h1M424 131.5h1M424 132.5h1M424 133.5h1M424 134.5h1M424 135.5h1M424 137.5h1M424 140.5h1M424 141.5h1M424 142.5h1M425 122.5h1M425 128.5h1M425 129.5h1M425 130.5h1M425 132.5h1M425 134.5h1M425 135.5h1M425 136.5h1M425 137.5h1M425 138.5h1M425 139.5h1M425 140.5h1M425 141.5h1M425 142.5h1M426 127.5h1M426 128.5h1M426 129.5h1M426 130.5h1M426 131.5h1M426 133.5h1M426 135.5h1M426 136.5h1M426 137.5h1M426 138.5h1M426 139.5h1M426 140.5h1M426 141.5h1M426 142.5h1M427 119.5h1M427 127.5h1M427 133.5h1M427 135.5h1M427 136.5h1M427 137.5h1M427 139.5h1M427 140.5h1M427 141.5h1M427 142.5h1M428 118.5h1M428 126.5h1M428 127.5h1M428 128.5h1M428 129.5h1M428 130.5h1M428 133.5h1M428 134.5h1M428 135.5h1M428 136.5h1M428 137.5h1M428 139.5h1M428 140.5h1M428 141.5h1M428 142.5h1M429 123.5h1M429 126.5h1M429 130.5h1M429 132.5h1M429 133.5h1M429 134.5h1M429 135.5h1M429 136.5h1M429 137.5h1M429 138.5h1M429 139.5h1M429 140.5h1M429 141.5h1M429 142.5h1M430 123.5h1M430 130.5h1M430 131.5h1M430 133.5h1M430 137.5h1M430 138.5h1M430 140.5h1M430 141.5h1M431 120.5h1M431 122.5h1M431 124.5h1M431 125.5h1M431 126.5h1M431 127.5h1M431 128.5h1M431 130.5h1M431 131.5h1M431 132.5h1M431 133.5h1M431 134.5h1M431 135.5h1M431 137.5h1M431 138.5h1M431 139.5h1M431 140.5h1M431 141.5h1M431 142.5h1M431 143.5h1M432 122.5h1M432 133.5h1M432 138.5h1M432 139.5h1M432 140.5h1M432 141.5h1M432 142.5h1M432 143.5h1M433 127.5h1M433 129.5h1M433 133.5h1M433 135.5h1M433 136.5h1M433 137.5h1M433 138.5h1M433 139.5h1M433 140.5h1M433 141.5h1M433 142.5h1M433 143.5h1M434 127.5h1M434 130.5h1M434 133.5h1M434 136.5h1M434 137.5h1M434 138.5h1M434 139.5h1M434 140.5h1M434 141.5h1M434 142.5h1M434 143.5h1M434 144.5h1M435 127.5h1M435 128.5h1M435 129.5h1M435 130.5h1M435 131.5h1M435 135.5h1M435 136.5h1M435 137.5h1M435 138.5h1M435 139.5h1M435 140.5h1M435 141.5h1M435 142.5h1M435 143.5h1M435 144.5h1M435 159.5h1M436 122.5h1M436 133.5h1M436 136.5h1M436 137.5h1M436 141.5h1M436 142.5h1M436 143.5h1M436 144.5h1M436 145.5h1M436 146.5h1M436 159.5h1M437 126.5h1M437 130.5h1M437 136.5h1M437 137.5h1M437 139.5h1M437 141.5h1M437 142.5h1M437 143.5h1M437 144.5h1M437 145.5h1M437 146.5h1M437 147.5h1M438 123.5h1M438 125.5h1M438 126.5h1M438 133.5h1M438 134.5h1M438 135.5h1M438 136.5h1M438 139.5h1M438 141.5h1M438 142.5h1M438 144.5h1M438 145.5h1M438 146.5h1M438 147.5h1M438 148.5h1M438 149.5h1M439 120.5h1M439 128.5h1M439 132.5h1M439 137.5h1M439 141.5h1M439 142.5h1M439 143.5h1M439 144.5h1M439 146.5h1M439 147.5h1M439 148.5h1M439 149.5h1M439 151.5h1M439 152.5h1M439 153.5h1M439 161.5h1M440 133.5h1M440 135.5h1M440 136.5h1M440 138.5h1M440 139.5h1M440 143.5h1M440 145.5h1M440 146.5h1M440 147.5h1M440 148.5h1M440 149.5h1M440 150.5h1M440 151.5h1M440 152.5h1M440 153.5h1M440 154.5h1M440 155.5h1M440 156.5h1M440 157.5h1M440 158.5h1M440 159.5h1M440 160.5h1M440 161.5h1M441 126.5h1M441 129.5h1M441 131.5h1M441 136.5h1M441 139.5h1M441 140.5h1M441 142.5h1M441 143.5h1M441 144.5h1M441 145.5h1M441 147.5h1M441 148.5h1M441 149.5h1M441 150.5h1M441 151.5h1M441 152.5h1M441 153.5h1M441 155.5h1M441 156.5h1M441 157.5h1M441 158.5h1M441 159.5h1M441 160.5h1M442 128.5h1M442 134.5h1M442 135.5h1M442 136.5h1M442 137.5h1M442 142.5h1M442 144.5h1M442 145.5h1M442 146.5h1M442 148.5h1M442 149.5h1M442 150.5h1M442 151.5h1M442 153.5h1M442 154.5h1M442 155.5h1M442 157.5h1M442 158.5h1M442 159.5h1M442 160.5h1M442 161.5h1M442 162.5h1M443 117.5h1M443 129.5h1M443 131.5h1M443 134.5h1M443 136.5h1M443 137.5h1M443 138.5h1M443 146.5h1M443 148.5h1M443 149.5h1M443 152.5h1M443 153.5h1M443 155.5h1M443 157.5h1M443 159.5h1M443 160.5h1M443 161.5h1M444 117.5h1M444 119.5h1M444 122.5h1M444 123.5h1M444 126.5h1M444 128.5h1M444 129.5h1M444 133.5h1M444 134.5h1M444 136.5h1M444 137.5h1M444 139.5h1M444 142.5h1M444 143.5h1M444 144.5h1M444 146.5h1M444 149.5h1M444 150.5h1M444 151.5h1M444 152.5h1M444 153.5h1M444 154.5h1M444 155.5h1M444 156.5h1M444 158.5h1M444 161.5h1M445 125.5h1M445 131.5h1M445 134.5h1M445 138.5h1M445 141.5h1M445 146.5h1M445 148.5h1M445 149.5h1M445 150.5h1M445 152.5h1M445 154.5h1M445 157.5h1M445 160.5h1M446 124.5h1M446 127.5h1M446 129.5h1M446 131.5h1M446 132.5h1M446 136.5h1M446 137.5h1M446 138.5h1M446 140.5h1M446 141.5h1M446 143.5h1M446 144.5h1M446 145.5h1M446 148.5h1M446 150.5h1M446 151.5h1M446 153.5h1M446 154.5h1M446 157.5h1M446 158.5h1M447 123.5h1M447 125.5h1M447 126.5h1M447 128.5h1M447 129.5h1M447 132.5h1M447 148.5h1M447 152.5h1M447 153.5h1M447 161.5h1M448 123.5h1M448 124.5h1M448 126.5h1M448 128.5h1M448 129.5h1M448 130.5h1M448 135.5h1M448 143.5h1M448 146.5h1M449 121.5h1M449 123.5h1M449 124.5h1M449 128.5h1M449 131.5h1M449 132.5h1M449 140.5h1M449 157.5h1M450 120.5h1M450 125.5h1M450 126.5h1M450 127.5h1M450 128.5h1M450 129.5h1M450 131.5h1M450 133.5h1M450 134.5h1M450 137.5h1M450 138.5h1M450 142.5h1M450 147.5h1M450 154.5h1M450 161.5h1M451 121.5h1M451 124.5h1M451 125.5h1M451 127.5h1M451 130.5h1M451 133.5h1M451 134.5h1M451 137.5h1M451 142.5h1M452 119.5h1M452 123.5h1M452 125.5h1M452 126.5h1M452 127.5h1M452 128.5h1M452 129.5h1M452 131.5h1M452 139.5h1M452 142.5h1M452 146.5h1M452 147.5h1M452 150.5h1M452 155.5h1M453 120.5h1M453 123.5h1M453 125.5h1M453 126.5h1M453 130.5h1M453 137.5h1M453 142.5h1M453 144.5h1M453 153.5h1M453 157.5h1M454 121.5h1M454 126.5h1M454 127.5h1M454 128.5h1M454 130.5h1M454 138.5h1M454 140.5h1M454 141.5h1M454 145.5h1M454 147.5h1M454 156.5h1M455 116.5h1M455 123.5h1M455 124.5h1M455 125.5h1M455 126.5h1M455 127.5h1M455 128.5h1M455 131.5h1M455 133.5h1M455 134.5h1M455 145.5h1M455 148.5h1M456 118.5h1M456 123.5h1M456 124.5h1M456 125.5h1M456 130.5h1M456 135.5h1M456 139.5h1M457 123.5h1M457 124.5h1M457 125.5h1M457 126.5h1M457 130.5h1M457 141.5h1M458 121.5h1M458 122.5h1M458 123.5h1M458 124.5h1M458 125.5h1M458 126.5h1M458 127.5h1M458 128.5h1M458 143.5h1M459 123.5h1M459 125.5h1M459 126.5h1M459 153.5h1M459 157.5h1M460 120.5h1M460 121.5h1M460 123.5h1M460 124.5h1M460 125.5h1M460 126.5h1M460 127.5h1M460 128.5h1M460 129.5h1M460 137.5h1M461 121.5h1M461 122.5h1M461 123.5h1M461 125.5h1M461 126.5h1M461 127.5h1M461 128.5h1M461 147.5h1M462 117.5h1M462 121.5h1M462 122.5h1M462 123.5h1M462 124.5h1M462 125.5h1M462 126.5h1M462 128.5h1M462 132.5h1M463 121.5h1M463 122.5h1M463 123.5h1M463 124.5h1M463 125.5h1M463 127.5h1M463 128.5h1M463 131.5h1M463 149.5h1M464 122.5h1M464 124.5h1M464 125.5h1M464 126.5h1M464 127.5h1M464 131.5h1M464 135.5h1M465 120.5h1M465 122.5h1M465 123.5h1M465 124.5h1M465 126.5h1M465 127.5h1M465 128.5h1M466 119.5h1M466 121.5h1M466 122.5h1M466 123.5h1M466 124.5h1M466 125.5h1M466 126.5h1M466 127.5h1M466 128.5h1M466 131.5h1M467 120.5h1M467 122.5h1M467 124.5h1M467 125.5h1M467 126.5h1M467 134.5h1M468 122.5h1M468 123.5h1M468 124.5h1M468 125.5h1M468 126.5h1M468 127.5h1M469 118.5h1M469 120.5h1M469 122.5h1M469 123.5h1M469 124.5h1M469 126.5h1M469 127.5h1M469 129.5h1M470 120.5h1M470 123.5h1M470 124.5h1M470 126.5h1M470 127.5h1M470 150.5h1M471 118.5h1M471 119.5h1M471 122.5h1M471 123.5h1M471 124.5h1M471 125.5h1M471 126.5h1M471 147.5h1M472 119.5h1M472 121.5h1M472 122.5h1M472 123.5h1M472 124.5h1M472 125.5h1M472 127.5h1M473 122.5h1M473 123.5h1M473 124.5h1M473 125.5h1M473 126.5h1M473 128.5h1M473 129.5h1M473 159.5h1M474 120.5h1M474 122.5h1M474 123.5h1M474 125.5h1M474 126.5h1M474 127.5h1M475 120.5h1M475 122.5h1M475 123.5h1M475 124.5h1M475 125.5h1M475 126.5h1M475 127.5h1M475 128.5h1M476 118.5h1M476 119.5h1M476 123.5h1M476 124.5h1M476 125.5h1M476 126.5h1M476 128.5h1M476 129.5h1M477 121.5h1M477 122.5h1M477 123.5h1M477 124.5h1M477 125.5h1M477 126.5h1M477 127.5h1M477 128.5h1M478 118.5h1M478 121.5h1M478 122.5h1M478 123.5h1M478 124.5h1M478 125.5h1M478 126.5h1M478 127.5h1M478 128.5h1M478 130.5h1M478 140.5h1M478 142.5h1M479 120.5h1M479 123.5h1M479 124.5h1M479 125.5h1M479 126.5h1M479 127.5h1M479 128.5h1M479 134.5h1M480 121.5h1M480 122.5h1M480 123.5h1M480 124.5h1M480 125.5h1M480 127.5h1M481 122.5h1M481 123.5h1M481 125.5h1M481 127.5h1M481 128.5h1M481 129.5h1M482 119.5h1M482 120.5h1M482 121.5h1M482 122.5h1M482 123.5h1M482 126.5h1M482 129.5h1M482 132.5h1M483 118.5h1M483 121.5h1M483 122.5h1M483 124.5h1M483 125.5h1M483 126.5h1M483 128.5h1M483 130.5h1M483 135.5h1M484 122.5h1M484 123.5h1M484 124.5h1M484 125.5h1M484 126.5h1M484 127.5h1M485 119.5h1M485 124.5h1M485 125.5h1M485 126.5h1M485 127.5h1M485 128.5h1M485 129.5h1M485 130.5h1M485 133.5h1M486 121.5h1M486 122.5h1M486 123.5h1M486 124.5h1M486 125.5h1M486 126.5h1M486 127.5h1M486 129.5h1M487 122.5h1M487 123.5h1M487 124.5h1M487 125.5h1M487 126.5h1M487 129.5h1M487 135.5h1M488 121.5h1M488 122.5h1M488 124.5h1M488 125.5h1M488 126.5h1M488 127.5h1M488 131.5h1M489 121.5h1M489 123.5h1M489 124.5h1M489 125.5h1M489 126.5h1M489 127.5h1M489 128.5h1M490 121.5h1M490 122.5h1M490 123.5h1M490 124.5h1M490 125.5h1M490 126.5h1M490 127.5h1M490 129.5h1M491 122.5h1M491 123.5h1M491 124.5h1M491 125.5h1M491 126.5h1M491 127.5h1M491 128.5h1M491 129.5h1M492 122.5h1M492 123.5h1M492 124.5h1M492 126.5h1M492 127.5h1M492 129.5h1M492 130.5h1M492 132.5h1M493 121.5h1M493 122.5h1M493 123.5h1M493 124.5h1M493 125.5h1M493 126.5h1M493 127.5h1M493 128.5h1M493 131.5h1M493 132.5h1M494 122.5h1M494 124.5h1M494 125.5h1M494 126.5h1M494 127.5h1M494 128.5h1M494 131.5h1M495 118.5h1M495 119.5h1M495 122.5h1M495 123.5h1M495 124.5h1M495 125.5h1M495 126.5h1M495 127.5h1M495 128.5h1M495 130.5h1M496 121.5h1M496 122.5h1M496 124.5h1M496 125.5h1M496 126.5h1M496 127.5h1M496 131.5h1M497 122.5h1M497 124.5h1M497 125.5h1M497 126.5h1M497 127.5h1M497 128.5h1M497 129.5h1M497 130.5h1M497 134.5h1M497 135.5h1M498 121.5h1M498 123.5h1M498 125.5h1M498 126.5h1M498 127.5h1M498 128.5h1M498 129.5h1M498 130.5h1M498 131.5h1" stroke="#111" stroke-width="1" fill="none"/>
<rect x="423.2" y="95.7" width="75.90000000000003" height="67.7" fill="none" stroke="#333" stroke-width="1"/>
<line x1="423.2" y1="95.2" x2="423.2" y2="163.9" stroke="#111" stroke-width="1.5"/>
<line x1="364.8" y1="204.6" x2="364.8" y2="351.0" stroke="#111" stroke-width="1.5"/>
<line x1="364.1" y1="350.3" x2="481.09999999999997" y2="350.3" stroke="#111" stroke-width="1.5"/>
<line x1="361.2" y1="350.3" x2="364.8" y2="350.3" stroke="#111" stroke-width="1.3"/>
<text x="353.3" y="354.7" font-size="12.3" text-anchor="end" transform="translate(353.3 0) scale(.85 1) translate(-353.3 0)">0</text>
<line x1="361.2" y1="332.1625" x2="364.8" y2="332.1625" stroke="#111" stroke-width="1.3"/>
<text x="353.3" y="336.56" font-size="12.3" text-anchor="end" transform="translate(353.3 0) scale(.85 1) translate(-353.3 0)">10</text>
<line x1="361.2" y1="314.025" x2="364.8" y2="314.025" stroke="#111" stroke-width="1.3"/>
<text x="353.3" y="318.42" font-size="12.3" text-anchor="end" transform="translate(353.3 0) scale(.85 1) translate(-353.3 0)">20</text>
<line x1="361.2" y1="295.8875" x2="364.8" y2="295.8875" stroke="#111" stroke-width="1.3"/>
<text x="353.3" y="300.29" font-size="12.3" text-anchor="end" transform="translate(353.3 0) scale(.85 1) translate(-353.3 0)">30</text>
<line x1="361.2" y1="277.75" x2="364.8" y2="277.75" stroke="#111" stroke-width="1.3"/>
<text x="353.3" y="282.15" font-size="12.3" text-anchor="end" transform="translate(353.3 0) scale(.85 1) translate(-353.3 0)">40</text>
<line x1="361.2" y1="259.6125" x2="364.8" y2="259.6125" stroke="#111" stroke-width="1.3"/>
<text x="353.3" y="264.01" font-size="12.3" text-anchor="end" transform="translate(353.3 0) scale(.85 1) translate(-353.3 0)">50</text>
<line x1="361.2" y1="241.475" x2="364.8" y2="241.475" stroke="#111" stroke-width="1.3"/>
<text x="353.3" y="245.88" font-size="12.3" text-anchor="end" transform="translate(353.3 0) scale(.85 1) translate(-353.3 0)">60</text>
<line x1="361.2" y1="223.33749999999998" x2="364.8" y2="223.33749999999998" stroke="#111" stroke-width="1.3"/>
<text x="353.3" y="227.74" font-size="12.3" text-anchor="end" transform="translate(353.3 0) scale(.85 1) translate(-353.3 0)">70</text>
<line x1="361.2" y1="205.2" x2="364.8" y2="205.2" stroke="#111" stroke-width="1.3"/>
<text x="353.3" y="209.6" font-size="12.3" text-anchor="end" transform="translate(353.3 0) scale(.85 1) translate(-353.3 0)">80</text>
<line x1="393.1" y1="350.3" x2="393.1" y2="353.5" stroke="#111" stroke-width="1.3"/>
<line x1="421.9" y1="350.3" x2="421.9" y2="353.5" stroke="#111" stroke-width="1.3"/>
<line x1="451.1" y1="350.3" x2="451.1" y2="353.5" stroke="#111" stroke-width="1.3"/>
<line x1="480.2" y1="350.3" x2="480.2" y2="353.5" stroke="#111" stroke-width="1.3"/>
<line x1="379.4" y1="339.05475" x2="379.4" y2="336.87825" stroke="#111" stroke-width="1.4"/>
<line x1="376.79999999999995" y1="336.87825" x2="382.0" y2="336.87825" stroke="#111" stroke-width="1.4"/>
<rect x="373.10" y="339.05" width="12.6" height="11.25" fill="#000"/>
<line x1="408.5" y1="339.236125" x2="408.5" y2="336.87825000000004" stroke="#111" stroke-width="1.4"/>
<line x1="405.9" y1="336.87825000000004" x2="411.1" y2="336.87825000000004" stroke="#111" stroke-width="1.4"/>
<rect x="402.90" y="339.94" width="11.2" height="10.36" fill="#fff" stroke="#111" stroke-width="1.4"/>
<rect x="405.20" y="342.24" width="6.6" height="6.56" fill="#e9e9e9"/>
<line x1="436.9" y1="327.265375" x2="436.9" y2="314.931875" stroke="#111" stroke-width="1.4"/>
<line x1="434.29999999999995" y1="314.931875" x2="439.5" y2="314.931875" stroke="#111" stroke-width="1.4"/>
<rect x="430.60" y="327.27" width="12.6" height="23.03" fill="#000"/>
<line x1="465.8" y1="228.05325" x2="465.8" y2="217.89625" stroke="#111" stroke-width="1.4"/>
<line x1="463.2" y1="217.89625" x2="468.40000000000003" y2="217.89625" stroke="#111" stroke-width="1.4"/>
<rect x="460.20" y="228.75" width="11.2" height="121.55" fill="#fff" stroke="#111" stroke-width="1.4"/>
<rect x="462.50" y="231.05" width="6.6" height="117.75" fill="#e9e9e9"/>
<path d="M401.4 312V306.90000000000003Q401.4 305.1 403.2 305.1H435.9Q437.7 305.1 437.7 306.90000000000003V312" fill="none" stroke="#000" stroke-width="1.25"/>
<text x="420.3" y="306.2" font-size="15" text-anchor="middle">*</text>
<path d="M431.4 214V208.60000000000002Q431.4 206.8 433.2 206.8H465.9Q467.7 206.8 467.7 208.60000000000002V214" fill="none" stroke="#000" stroke-width="1.25"/>
<text x="450.4" y="206.65" font-size="14.7" text-anchor="middle">**</text>
<line x1="375.3" y1="358" x2="411.7" y2="358" stroke="#111" stroke-width="1.5"/>
<line x1="434.4" y1="358" x2="470" y2="358" stroke="#111" stroke-width="1.5"/>
<text x="393.9" y="370.5" font-size="13.3" text-anchor="middle">ctrl</text>
<text x="450.7" y="370.6" font-size="13.35" text-anchor="middle">apop cells</text>
<text x="335.7" y="325.5" font-size="11.8" text-anchor="start" transform="rotate(-90 335.7 325.5)">%OTII proliferating</text>
<rect x="367.9" y="203.3" width="13.8" height="12.2" fill="#000"/>
<rect x="368.5" y="218.8" width="13.2" height="11.2" fill="#fff" stroke="#2a2a2a" stroke-width="1.3"/>
<rect x="370.8" y="221" width="8.6" height="6.8" fill="#e9e9e9"/>
<text x="382.8" y="214.2" font-size="11.7" text-anchor="start">PBSL</text>
<text x="382.8" y="229.1" font-size="11.7" text-anchor="start">CL</text>
</g>
</svg></body></html>
